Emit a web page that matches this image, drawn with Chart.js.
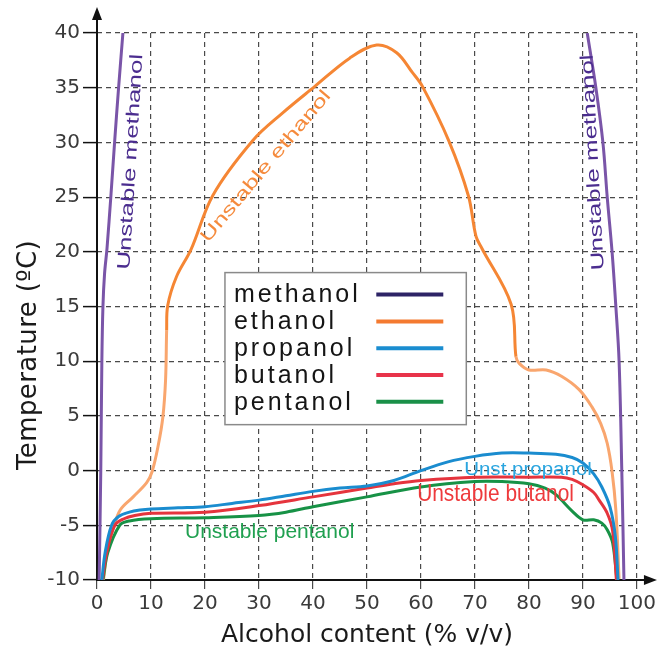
<!DOCTYPE html>
<html>
<head>
<meta charset="utf-8">
<script src="https://cdn.jsdelivr.net/npm/chart.js@4.4.1/dist/chart.umd.min.js"></script>
<style>
  html, body { margin: 0; padding: 0; background: #fff; }
  #chart { display: block; }
</style>
</head>
<body>
<canvas id="chart" width="659" height="655"></canvas>
<script>
// ─── DATA (alcohol content % v/v  vs  temperature °C) ───
const methanolLeftX  = [0.4, 0.7, 0.9, 1.1, 1.4, 1.85, 2.6, 3.3, 4.0, 4.8];
const methanolLeftY  = [-10, 0, 10, 15, 18, 20.3, 25.3, 30.3, 35, 40];
const methanolRightX = [90.8, 92.4, 93.7, 94.5, 95.4, 96.1, 96.7, 97.2, 97.6];
const methanolRightY = [40, 35, 30, 25, 20, 15, 10, 0, -10];

const ethanolX = [1.2, 2.0, 3.0, 4.3, 6.7, 9.2, 10.2, 11.3, 12.2, 12.7, 12.9, 13.1, 14.7, 17.4, 21.5,
                  28.9, 34.4, 40.3, 46.8, 51.8, 55.5, 58.4, 60.3, 65.2, 68.8, 70.2, 71.3, 76.7, 77.6, 78.2,
                  80.0, 83.2, 86.1, 89.3, 91.7, 93.3, 94.5, 95.4, 96.1, 96.7];
const ethanolY = [-10, -7, -5.3, -3.6, -2.4, -1.1, -0.1, 2.2, 4.9, 8.3, 12.8, 15.1, 17.7, 20.2, 25.2,
                  30.2, 32.7, 35.1, 37.7, 38.9, 38.2, 36.4, 35.1, 30.1, 25.1, 21.4, 20.3, 15.2, 10.4, 9.8,
                  9.2, 9.2, 8.6, 7.4, 5.8, 4.3, 2.5, -0.1, -3.6, -9.9];

const propanolX = [0.9, 1.5, 2.7, 4, 6, 8, 10, 15, 20, 25, 30, 35, 40, 45, 50,
                   55, 60, 65, 70, 75, 80, 85, 88, 90, 92, 93.5, 95, 96, 96.5];
const propanolY = [-10, -7.5, -5, -4.2, -3.8, -3.6, -3.5, -3.4, -3.3, -3.0, -2.7, -2.3, -1.9, -1.6, -1.4,
                   -0.9, 0, 0.8, 1.3, 1.6, 1.6, 1.5, 1.2, 0.7, -0.3, -1.5, -3.3, -6, -10];

const butanolX = [1.0, 1.8, 3.3, 5, 7, 10, 20, 30, 40, 50, 55, 60, 70, 80, 86,
                  88, 90, 92, 93, 94.5, 95.5, 96.2];
const butanolY = [-10, -7.5, -5, -4.4, -4.1, -3.9, -3.8, -3.2, -2.4, -1.6, -1.2, -0.9, -0.6, -0.6, -0.6,
                  -0.8, -1.3, -2.0, -2.7, -3.9, -5.5, -10];

const pentanolX = [1.1, 2.0, 4.2, 6, 10, 20, 30, 35, 40, 50, 60, 70, 75, 80, 83,
                   85, 88, 90, 92, 93.5, 94.5, 95.5, 96.3];
const pentanolY = [-10, -7.5, -5, -4.6, -4.4, -4.3, -4.1, -3.8, -3.3, -2.4, -1.5, -1.0, -1.0, -1.2, -1.6,
                   -2.2, -3.7, -4.5, -4.5, -4.8, -5.4, -6.6, -10];

const seriesNames = ['methanol', 'ethanol', 'propanol', 'butanol', 'pentanol'];

// ─── STYLE ──────────────────────────────────────────────────────
const lineColors   = ['#7a55a8', '#f58634', '#1a8ccf', '#e5343d', '#179246'];
const legendColors = ['#2d2366', '#f47a30', '#1a8dd0', '#e8334a', '#1a9048'];
const ethanolLight = '#f9a66e';
const tickFont = { family: "'DejaVu Sans', sans-serif", size: 20 };

// text notes placed in data coordinates
const notes = [
  { text: 'Unstable methanol', x: 7.2,  y: 28.2, angle: -86.5, size: 18, sx: 1.44, color: '#4b2d8f', align: 'center' },
  { text: 'Unstable methanol', x: 92.8, y: 28.2, angle: -93,   size: 18, sx: 1.44, color: '#4b2d8f', align: 'center' },
  { text: 'Unstable ethanol',  x: 32.0, y: 27.5, angle: -50,   size: 18, sx: 1.42, color: '#f58a3c', align: 'center' },
  { text: 'Unst.propanol',     x: 68.0, y: -0.4, angle: 0,     size: 18, sx: 1.14, color: '#2aa5df', align: 'left' },
  { text: 'Unstable butanol',  x: 59.3, y: -2.8, angle: 0,     size: 24, sx: 0.87, color: '#ee3a3c', align: 'left' },
  { text: 'Unstable pentanol', x: 16.3, y: -6.2, angle: 0,     size: 21, sx: 1.0,  color: '#20a050', align: 'left' },
];

const pts = (xs, ys) => xs.map((x, i) => ({ x, y: ys[i] }));

function lineSet(label, data, color, extra) {
  return Object.assign({
    label, data,
    borderColor: color,
    borderWidth: 3,
    pointRadius: 0,
    tension: 0.35,
    fill: false,
  }, extra || {});
}

// ─── OVERLAY: arrows, legend box, notes, y title ────────────────
const overlay = {
  id: 'overlay',
  beforeDatasetsDraw(chart) {
    const { ctx, chartArea: a } = chart;
    ctx.save();
    ctx.strokeStyle = '#111';
    ctx.fillStyle = '#111';
    ctx.lineWidth = 2;
    ctx.beginPath();
    ctx.moveTo(a.left, a.bottom + 1);
    ctx.lineTo(a.left, a.top - 14);
    ctx.moveTo(a.left - 1, a.bottom);
    ctx.lineTo(a.right + 10, a.bottom);
    ctx.stroke();
    ctx.beginPath();
    ctx.moveTo(a.left, a.top - 26);
    ctx.lineTo(a.left - 5, a.top - 13);
    ctx.lineTo(a.left + 5, a.top - 13);
    ctx.closePath();
    ctx.fill();
    ctx.beginPath();
    ctx.moveTo(a.right + 20, a.bottom);
    ctx.lineTo(a.right + 7, a.bottom - 5);
    ctx.lineTo(a.right + 7, a.bottom + 5);
    ctx.closePath();
    ctx.fill();
    ctx.restore();
  },
  afterDatasetsDraw(chart) {
    const { ctx, scales: { x, y } } = chart;

    // legend box
    const L = x.getPixelForValue(23.7), R = x.getPixelForValue(68.4);
    const T = y.getPixelForValue(18.1), B = y.getPixelForValue(4.2);
    ctx.save();
    ctx.fillStyle = '#fff';
    ctx.fillRect(L, T, R - L, B - T);
    ctx.strokeStyle = '#8a8a8a';
    ctx.lineWidth = 1.5;
    ctx.strokeRect(L, T, R - L, B - T);
    ctx.font = "25px 'Liberation Sans', Arial, sans-serif";
    ctx.letterSpacing = '3px';
    ctx.textBaseline = 'middle';
    seriesNames.forEach((name, i) => {
      const ry = T + 22 + i * 26.8;
      ctx.fillStyle = '#151515';
      ctx.fillText(name, L + 9, ry + 1);
      ctx.strokeStyle = legendColors[i];
      ctx.lineWidth = 4;
      ctx.beginPath();
      ctx.moveTo(R - 90, ry);
      ctx.lineTo(R - 23, ry);
      ctx.stroke();
    });
    ctx.restore();

    // notes
    notes.forEach(n => {
      ctx.save();
      ctx.translate(x.getPixelForValue(n.x), y.getPixelForValue(n.y));
      ctx.rotate(n.angle * Math.PI / 180);
      ctx.scale(n.sx, 1);
      ctx.font = n.size + "px 'Liberation Sans', Arial, sans-serif";
      ctx.fillStyle = n.color;
      ctx.textAlign = n.align;
      ctx.textBaseline = 'alphabetic';
      ctx.fillText(n.text, 0, 0);
      ctx.restore();
    });
  },
  afterDraw(chart) {
    const { ctx, chartArea: a } = chart;
    ctx.save();
    ctx.translate(29, a.top + 322);
    ctx.rotate(-Math.PI / 2);
    ctx.font = "26px 'DejaVu Sans', sans-serif";
    ctx.letterSpacing = '0.4px';
    ctx.fillStyle = '#1a1a1a';
    ctx.textAlign = 'center';
    ctx.textBaseline = 'middle';
    ctx.fillText('Temperature (ºC)', 0, 0);
    ctx.restore();
  },
};

const methanolData = [...pts(methanolLeftX, methanolLeftY), { x: 50, y: null }, ...pts(methanolRightX, methanolRightY)];

new Chart(document.getElementById('chart'), {
  type: 'line',
  data: {
    datasets: [
      lineSet('propanol', pts(propanolX, propanolY), lineColors[2]),
      lineSet('butanol', pts(butanolX, butanolY), lineColors[3]),
      lineSet('pentanol', pts(pentanolX, pentanolY), lineColors[4]),
      lineSet('ethanol', pts(ethanolX, ethanolY), lineColors[1], {
        segment: {
          borderColor: c => (c.p0.parsed.y < 13 && c.p1.parsed.y < 13) ? ethanolLight : lineColors[1],
        },
      }),
      lineSet('methanol', methanolData, lineColors[0], { spanGaps: false }),
    ],
  },
  options: {
    responsive: false,
    animation: false,
    layout: { padding: { top: 33, right: 22, left: 0, bottom: 0 } },
    plugins: { legend: { display: false }, tooltip: { enabled: false } },
    scales: {
      x: {
        type: 'linear',
        min: 0, max: 100,
        afterFit: s => { s.height = 75; },
        ticks: { stepSize: 10, font: tickFont, color: '#3a3a3a', padding: 3, maxRotation: 0 },
        grid: { color: '#4a4a4a', lineWidth: 1.2, tickLength: 9, tickColor: '#4a4a4a', tickWidth: 1.2 },
        border: { display: false, dash: [5, 4] },
        title: {
          display: true,
          text: 'Alcohol content (% v/v)',
          font: { family: "'DejaVu Sans', sans-serif", size: 25 },
          color: '#1a1a1a',
          padding: { top: 4, bottom: 5 },
        },
      },
      y: {
        type: 'linear',
        min: -10, max: 40,
        afterFit: s => { s.width = 97; },
        ticks: { stepSize: 5, font: tickFont, color: '#3a3a3a', padding: 3 },
        grid: { color: '#4a4a4a', lineWidth: 1.2, tickLength: 14, tickColor: '#111', tickWidth: 1.5 },
        border: { display: false, dash: [5, 4] },
      },
    },
  },
  plugins: [overlay],
});
</script>
</body>
</html>
